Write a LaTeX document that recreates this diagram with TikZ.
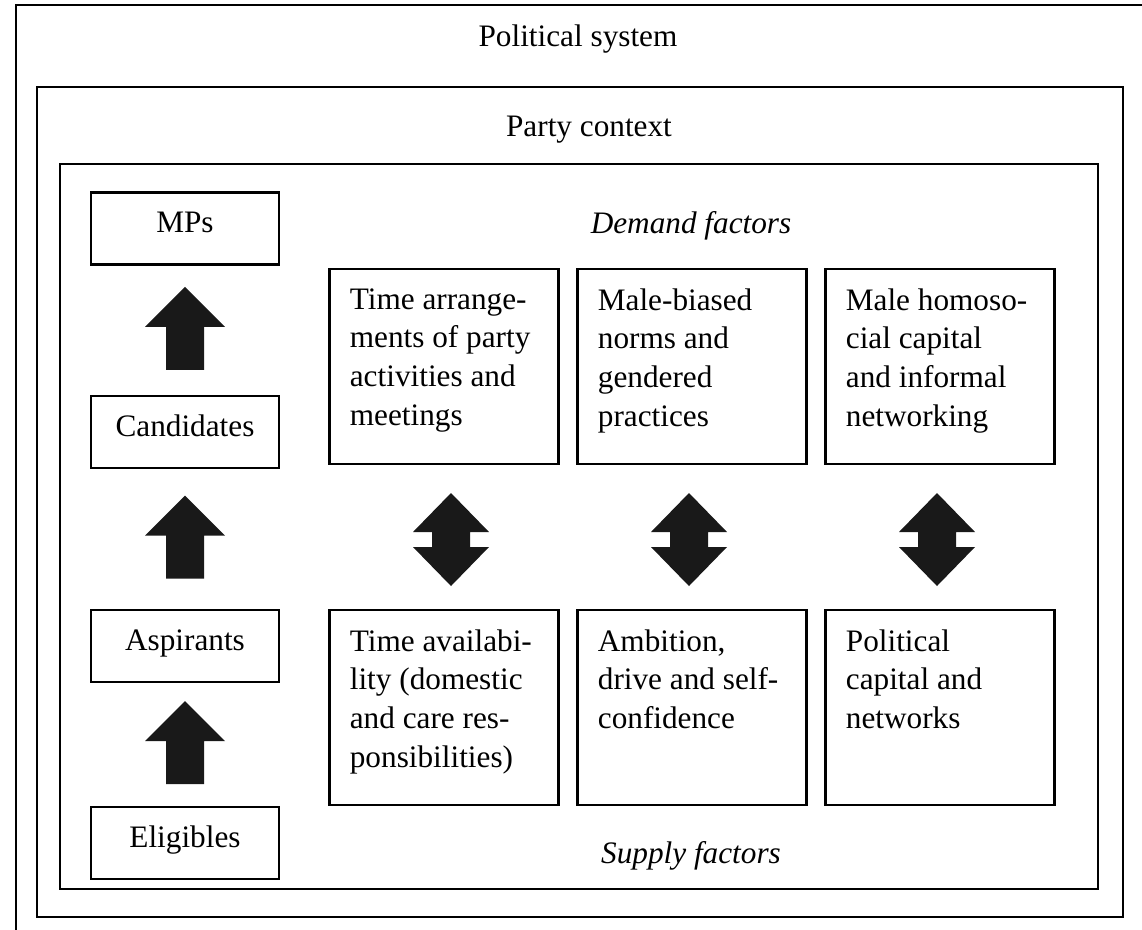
\documentclass[tikz,border=0pt]{standalone}
\usepackage{fontspec}
\setmainfont{Liberation Serif}
\usetikzlibrary{calc}

\tikzset{
  frame/.style={draw, line width=0.9pt},
  stage/.style={frame, minimum width=75.2pt, minimum height=28.8pt, inner sep=0pt,
    text height=8pt, text depth=4.8pt},
  factor/.style={frame, minimum width=91.6pt, minimum height=78pt, inner sep=0pt},
  factortext/.style={anchor=north west, inner sep=0pt, align=left},
  blockarrow/.style={fill=black!90, draw=none},
}

\begin{document}
\begin{tikzpicture}[x=0.4pt, y=-0.4pt, font=\fontsize{12.5}{15.5}\selectfont]
\useasboundingbox (0,0) rectangle (1142,929);
\clip (0,0) rectangle (1142,929);
\fill[white] (0,0) rectangle (1142,929);

% nested contexts
\draw[frame] (16,5) rectangle (1160,950);
\draw[frame] (37,87) rectangle (1123,917);
\draw[frame] (60,164) rectangle (1098,889);
\node[anchor=base] (polsys) at (578,46) {Political system};
\node[anchor=base] (party) at (589,136) {Party context};
\node[anchor=base] (demand) at (691,233) {\textit{Demand factors}};
\node[anchor=base] (supply) at (691,863) {\textit{Supply factors}};

% recruitment stages
\foreach \name/\text/\y in {mps/MPs/228.5, cand/Candidates/432, asp/Aspirants/646, elig/Eligibles/843}
  \node[stage] (\name) at (185,\y) {\text};

\foreach \lo/\hi in {cand/mps, asp/cand, elig/asp}
  \fill[blockarrow, shift={($(\lo.north)!0.5!(\hi.south)+(0,-2)$)}]
    (0,-41.5) -- (40,-1.5) -- (19,-1.5) -- (19,41.5) -- (-19,41.5) -- (-19,-1.5) -- (-40,-1.5) -- cycle;

% demand and supply boxes
\foreach \col/\x in {1/444, 2/692, 3/940}
{
  \node[factor] (dem\col) at (\x,366.5) {};
  \node[factor] (sup\col) at (\x,707.5) {};
}
\node[factortext] (demtext1) at ($(dem1.north west)+(21,20)$) {Time arrange-\\ments of party\\activities and\\meetings};
\node[factortext] (demtext2) at ($(dem2.north west)+(21,20)$) {Male-biased\\norms and\\gendered\\practices};
\node[factortext] (demtext3) at ($(dem3.north west)+(21,20)$) {Male homoso-\\cial capital\\and informal\\networking};
\node[factortext] (suptext1) at ($(sup1.north west)+(21,20)$) {Time availabi-\\lity (domestic\\and care res-\\ponsibilities)};
\node[factortext] (suptext2) at ($(sup2.north west)+(21,20)$) {Ambition,\\drive and self-\\confidence};
\node[factortext] (suptext3) at ($(sup3.north west)+(21,20)$) {Political\\capital and\\networks};

\foreach \col/\dx in {1/7, 2/-3, 3/-3}
  \fill[blockarrow, shift={($(dem\col.south)!0.5!(sup\col.north)+(\dx,2.5)$)}]
    (0,-46.5) -- (38,-7.5) -- (19,-7.5) -- (19,7.5) -- (38,7.5) -- (0,46.5)
    -- (-38,7.5) -- (-19,7.5) -- (-19,-7.5) -- (-38,-7.5) -- cycle;
\end{tikzpicture}
\end{document}
